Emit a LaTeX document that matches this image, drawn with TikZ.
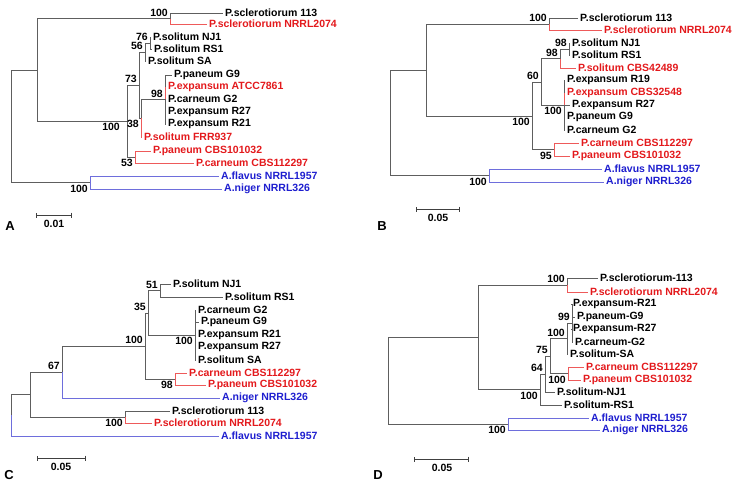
\documentclass[tikz,border=0pt]{standalone}
\usepackage{fontspec}
\setmainfont{Liberation Sans}
\usetikzlibrary{arrows.meta}
\definecolor{cRedTxt}{HTML}{E3191C}
\definecolor{cBlueTxt}{HTML}{1E1ECF}
\definecolor{cGrayBr}{HTML}{5E5E5E}
\definecolor{cRedBr}{HTML}{EE5A5A}
\definecolor{cBlueBr}{HTML}{6E6EDC}

\begin{document}
\begin{tikzpicture}[
    x=1pt, y=-1pt,
    font=\fontsize{10.5}{12}\selectfont\bfseries,
    leaf/.style={anchor=west, inner sep=2pt},
    rleaf/.style={leaf, text=cRedTxt},
    bleaf/.style={leaf, text=cBlueTxt},
    br/.style={draw=cGrayBr, line width=0.9pt},
    rbr/.style={draw=cRedBr, line width=0.9pt},
    bbr/.style={draw=cBlueBr, line width=0.9pt},
    bs/.style={inner sep=2pt},
    scalebar/.style={{Bar[width=5pt]}-{Bar[width=5pt]}, draw=black!75, line width=1pt},
    tag/.style={font=\fontsize{13}{15}\selectfont\bfseries}
]
\useasboundingbox (0,0) rectangle (734,485);

% panel A
\coordinate (aRoot) at (11,126);
\coordinate (aX) at (37,70);
\coordinate (aScl) at (170,18.5);
\coordinate (aPen) at (127,121);
\coordinate (a73) at (139,85);
\coordinate (a56) at (145,52);
\coordinate (a76) at (150,43);
\coordinate (a38) at (141,118);
\coordinate (a98) at (165,99.5);
\coordinate (a53) at (135,157);
\coordinate (aAsp) at (90,182.5);

\node[leaf] (aS113) at (223,13) {P.sclerotiorum 113};
\node[rleaf] (aS2074) at (207,24) {P.sclerotiorum NRRL2074};
\node[leaf] (aNJ1) at (151,37) {P.solitum NJ1};
\node[leaf] (aRS1) at (152,49) {P.solitum RS1};
\node[leaf] (aSA) at (146,61) {P.solitum SA};
\node[leaf] (aG9) at (172,75) {P.paneum G9};
\node[rleaf] (aATCC) at (166,87) {P.expansum ATCC7861};
\node[leaf] (aG2) at (166,99) {P.carneum G2};
\node[leaf] (aR27) at (166,112) {P.expansum R27};
\node[leaf] (aR21) at (166,124) {P.expansum R21};
\node[rleaf] (aFRR) at (142,137) {P.solitum FRR937};
\node[rleaf] (aPan) at (151,151) {P.paneum CBS101032};
\node[rleaf] (aCar) at (194,163) {P.carneum CBS112297};
\node[bleaf] (aFla) at (219,176) {A.flavus NRRL1957};
\node[bleaf] (aNig) at (222,189) {A.niger NRRL326};

\draw[br] (aRoot) |- (aX);
\draw[br] (aRoot) |- (aAsp);
\draw[br] (aX) |- (aScl);
\draw[br] (aX) |- (aPen);
\draw[br] (aScl) |- (aS113.west);
\draw[rbr] (aScl) |- (aS2074.west);
\draw[br] (aPen) |- (a73);
\draw[br] (aPen) |- (a53);
\draw[br] (a73) |- (a56);
\draw[br] (a73) |- (a38);
\draw[br] (a56) |- (a76);
\draw[br] (a56) |- (aSA.west);
\draw[br] (a76) |- (aNJ1.west);
\draw[br] (a76) |- (aRS1.west);
\draw[br] (a38) |- (a98);
\draw[rbr] (a38) |- (aFRR.west);
\draw[br] (a98) |- (aG9.west);
\draw[rbr] (a98) |- (aATCC.west);
\draw[br] (a98) |- (aG2.west);
\draw[br] (a98) |- (aR27.west);
\draw[br] (a98) |- (aR21.west);
\draw[rbr] (a53) |- (aPan.west);
\draw[rbr] (a53) |- (aCar.west);
\draw[bbr] (aAsp) |- (aFla.west);
\draw[bbr] (aAsp) |- (aNig.west);

\node[bs, anchor=south east] (aB1) at (aScl) {100};
\node[bs, anchor=south east] (aB2) at (a76) {76};
\node[bs, anchor=south east] (aB3) at (a56) {56};
\node[bs, anchor=south east] (aB4) at (a73) {73};
\node[bs, anchor=south east] (aB5) at (a98) {98};
\node[bs, anchor=north east] (aB6) at (a38) {38};
\node[bs, anchor=north east] (aB7) at ([xshift=-5pt]aPen) {100};
\node[bs, anchor=north east] (aB8) at (a53) {53};
\node[bs, anchor=north east] (aB9) at (aAsp) {100};

\coordinate (aBar1) at (36,215);
\coordinate (aBar2) at (72,215);
\draw[scalebar] (aBar1) -- (aBar2);
\node (aBarTxt) at (54,224) {0.01};
\node[tag] (aTag) at (10,226) {A};

% panel B
\coordinate (bRoot) at (390,123);
\coordinate (bX) at (426,70);
\coordinate (bScl) at (549,24);
\coordinate (bPen) at (532,116);
\coordinate (b60) at (541,82);
\coordinate (b98o) at (560,58.5);
\coordinate (b98i) at (569,49);
\coordinate (bExp) at (564,105);
\coordinate (b95) at (554,149.5);
\coordinate (bAsp) at (489,175.5);

\node[leaf] (bS113) at (578,18) {P.sclerotiorum 113};
\node[rleaf] (bS2074) at (602,30) {P.sclerotiorum NRRL2074};
\node[leaf] (bNJ1) at (570,43) {P.solitum NJ1};
\node[leaf] (bRS1) at (570,55) {P.solitum RS1};
\node[rleaf] (bSol) at (576,68) {P.solitum CBS42489};
\node[leaf] (bR19) at (565,80) {P.expansum R19};
\node[rleaf] (bExpC) at (565,93) {P.expansum CBS32548};
\node[leaf] (bR27) at (570,105) {P.expansum R27};
\node[leaf] (bG9) at (565,117) {P.paneum G9};
\node[leaf] (bG2) at (565,130) {P.carneum G2};
\node[rleaf] (bCar) at (579,143) {P.carneum CBS112297};
\node[rleaf] (bPan) at (570,156) {P.paneum CBS101032};
\node[bleaf] (bFla) at (602,169) {A.flavus NRRL1957};
\node[bleaf] (bNig) at (604,182) {A.niger NRRL326};

\draw[br] (bRoot) |- (bX);
\draw[br] (bRoot) |- (bAsp);
\draw[br] (bX) |- (bScl);
\draw[br] (bX) |- (bPen);
\draw[br] (bScl) |- (bS113.west);
\draw[rbr] (bScl) |- (bS2074.west);
\draw[br] (bPen) |- (b60);
\draw[br] (bPen) |- (b95);
\draw[br] (b60) |- (b98o);
\draw[br] (b60) |- (bExp);
\draw[br] (b98o) |- (b98i);
\draw[rbr] (b98o) |- (bSol.west);
\draw[br] (b98i) |- (bNJ1.west);
\draw[br] (b98i) |- (bRS1.west);
\draw[br] (bExp) |- (bR19.west);
\draw[rbr] (bExp) |- (bExpC.west);
\draw[br] (bExp) |- (bR27.west);
\draw[br] (bExp) |- (bG9.west);
\draw[br] (bExp) |- (bG2.west);
\draw[rbr] (b95) |- (bCar.west);
\draw[rbr] (b95) |- (bPan.west);
\draw[bbr] (bAsp) |- (bFla.west);
\draw[bbr] (bAsp) |- (bNig.west);

\node[bs, anchor=south east] (bB1) at (bScl) {100};
\node[bs, anchor=south east] (bB2) at (b98i) {98};
\node[bs, anchor=south east] (bB3) at (b98o) {98};
\node[bs, anchor=south east] (bB4) at (b60) {60};
\node[bs, anchor=north east] (bB5) at (bExp) {100};
\node[bs, anchor=north east] (bB6) at (b95) {95};
\node[bs, anchor=north east] (bB7) at (bPen) {100};
\node[bs, anchor=north east] (bB8) at (bAsp) {100};

\coordinate (bBar1) at (416,209);
\coordinate (bBar2) at (460,209);
\draw[scalebar] (bBar1) -- (bBar2);
\node (bBarTxt) at (438,218) {0.05};
\node[tag] (bTag) at (382,226) {B};

% panel C
\coordinate (cRoot) at (11,415);
\coordinate (cP) at (30,394.5);
\coordinate (cQ) at (62,372);
\coordinate (cR) at (145,346);
\coordinate (c35) at (148,313);
\coordinate (c51) at (160,290.5);
\coordinate (cGrp) at (195,335);
\coordinate (c98) at (175,379);
\coordinate (cScl) at (125,417);

\node[leaf] (cNJ1) at (171,284) {P.solitum NJ1};
\node[leaf] (cRS1) at (223,297) {P.solitum RS1};
\node[leaf] (cG2) at (196,310) {P.carneum G2};
\node[leaf] (cG9) at (199,322) {P.paneum G9};
\node[leaf] (cR21) at (196,335) {P.expansum R21};
\node[leaf] (cR27) at (196,347) {P.expansum R27};
\node[leaf] (cSA) at (196,360) {P.solitum SA};
\node[rleaf] (cCar) at (187,373) {P.carneum CBS112297};
\node[rleaf] (cPan) at (206,385) {P.paneum CBS101032};
\node[bleaf] (cNig) at (220,398) {A.niger NRRL326};
\node[leaf] (cS113) at (170,411) {P.sclerotiorum 113};
\node[rleaf] (cS2074) at (152,423) {P.sclerotiorum NRRL2074};
\node[bleaf] (cFla) at (219,436) {A.flavus NRRL1957};

\draw[br] (cRoot) |- (cP);
\draw[bbr] (cRoot) |- (cFla.west);
\draw[br] (cP) |- (cQ);
\draw[br] (cP) |- (cScl);
\draw[br] (cQ) |- (cR);
\draw[bbr] (cQ) |- (cNig.west);
\draw[br] (cR) |- (c35);
\draw[br] (cR) |- (c98);
\draw[br] (c35) |- (c51);
\draw[br] (c35) |- (cGrp);
\draw[br] (c51) |- (cNJ1.west);
\draw[br] (c51) |- (cRS1.west);
\draw[br] (cGrp) |- (cG2.west);
\draw[br] (cGrp) |- (cG9.west);
\draw[br] (cGrp) |- (cR21.west);
\draw[br] (cGrp) |- (cR27.west);
\draw[br] (cGrp) |- (cSA.west);
\draw[rbr] (c98) |- (cCar.west);
\draw[rbr] (c98) |- (cPan.west);
\draw[br] (cScl) |- (cS113.west);
\draw[rbr] (cScl) |- (cS2074.west);

\node[bs, anchor=south east] (cB1) at (c51) {51};
\node[bs, anchor=south east] (cB2) at (c35) {35};
\node[bs, anchor=north east] (cB3) at (cGrp) {100};
\node[bs, anchor=north east] (cB4) at (c98) {98};
\node[bs, anchor=south east] (cB5) at (cR) {100};
\node[bs, anchor=south east] (cB6) at (cQ) {67};
\node[bs, anchor=north east] (cB7) at (cScl) {100};

\coordinate (cBar1) at (37,458);
\coordinate (cBar2) at (86,458);
\draw[scalebar] (cBar1) -- (cBar2);
\node (cBarTxt) at (61,467) {0.05};
\node[tag] (cTag) at (9,475) {C};

% panel D
\coordinate (dRoot) at (388,380.5);
\coordinate (dX) at (478,337);
\coordinate (dScl) at (567,285);
\coordinate (dPen) at (540,389.5);
\coordinate (d64) at (545,374);
\coordinate (d75) at (550,356);
\coordinate (dSA) at (567,338.5);
\coordinate (d99) at (572,323);
\coordinate (dCBS) at (568,373.5);
\coordinate (dAsp) at (508,424);

\node[leaf] (dS113) at (598,278) {P.sclerotiorum-113};
\node[rleaf] (dS2074) at (588,292) {P.sclerotiorum NRRL2074};
\node[leaf] (dR21) at (571,304) {P.expansum-R21};
\node[leaf] (dG9) at (575,317) {P.paneum-G9};
\node[leaf] (dR27) at (571,329) {P.expansum-R27};
\node[leaf] (dG2) at (573,342) {P.carneum-G2};
\node[leaf] (dSol) at (568,354) {P.solitum-SA};
\node[rleaf] (dCar) at (584,367) {P.carneum CBS112297};
\node[rleaf] (dPan) at (581,380) {P.paneum CBS101032};
\node[leaf] (dNJ1) at (555,392) {P.solitum-NJ1};
\node[leaf] (dRS1) at (562,405) {P.solitum-RS1};
\node[bleaf] (dFla) at (589,418) {A.flavus NRRL1957};
\node[bleaf] (dNig) at (600,430) {A.niger NRRL326};

\draw[br] (dRoot) |- (dX);
\draw[br] (dRoot) |- (dAsp);
\draw[br] (dX) |- (dScl);
\draw[br] (dX) |- (dPen);
\draw[br] (dScl) |- (dS113.west);
\draw[rbr] (dScl) |- (dS2074.west);
\draw[br] (dPen) |- (d64);
\draw[br] (dPen) |- (dRS1.west);
\draw[br] (d64) |- (d75);
\draw[br] (d64) |- (dNJ1.west);
\draw[br] (d75) |- (dSA);
\draw[br] (d75) |- (dCBS);
\draw[br] (dSA) |- (d99);
\draw[br] (dSA) |- (dSol.west);
\draw[br] (d99) |- (dR21.west);
\draw[br] (d99) |- (dG9.west);
\draw[br] (d99) |- (dR27.west);
\draw[br] (d99) |- (dG2.west);
\draw[rbr] (dCBS) |- (dCar.west);
\draw[rbr] (dCBS) |- (dPan.west);
\draw[bbr] (dAsp) |- (dFla.west);
\draw[bbr] (dAsp) |- (dNig.west);

\node[bs, anchor=south east] (dB1) at (dScl) {100};
\node[bs, anchor=south east] (dB2) at (d99) {99};
\node[bs, anchor=south east] (dB3) at (dSA) {100};
\node[bs, anchor=north east] (dB4) at (dCBS) {100};
\node[bs, anchor=south east] (dB5) at (d75) {75};
\node[bs, anchor=south east] (dB6) at (d64) {64};
\node[bs, anchor=north east] (dB7) at (dPen) {100};
\node[bs, anchor=north east] (dB8) at (dAsp) {100};

\coordinate (dBar1) at (414,459);
\coordinate (dBar2) at (469,459);
\draw[scalebar] (dBar1) -- (dBar2);
\node (dBarTxt) at (442,468) {0.05};
\node[tag] (dTag) at (378,475) {D};

\end{tikzpicture}
\end{document}
